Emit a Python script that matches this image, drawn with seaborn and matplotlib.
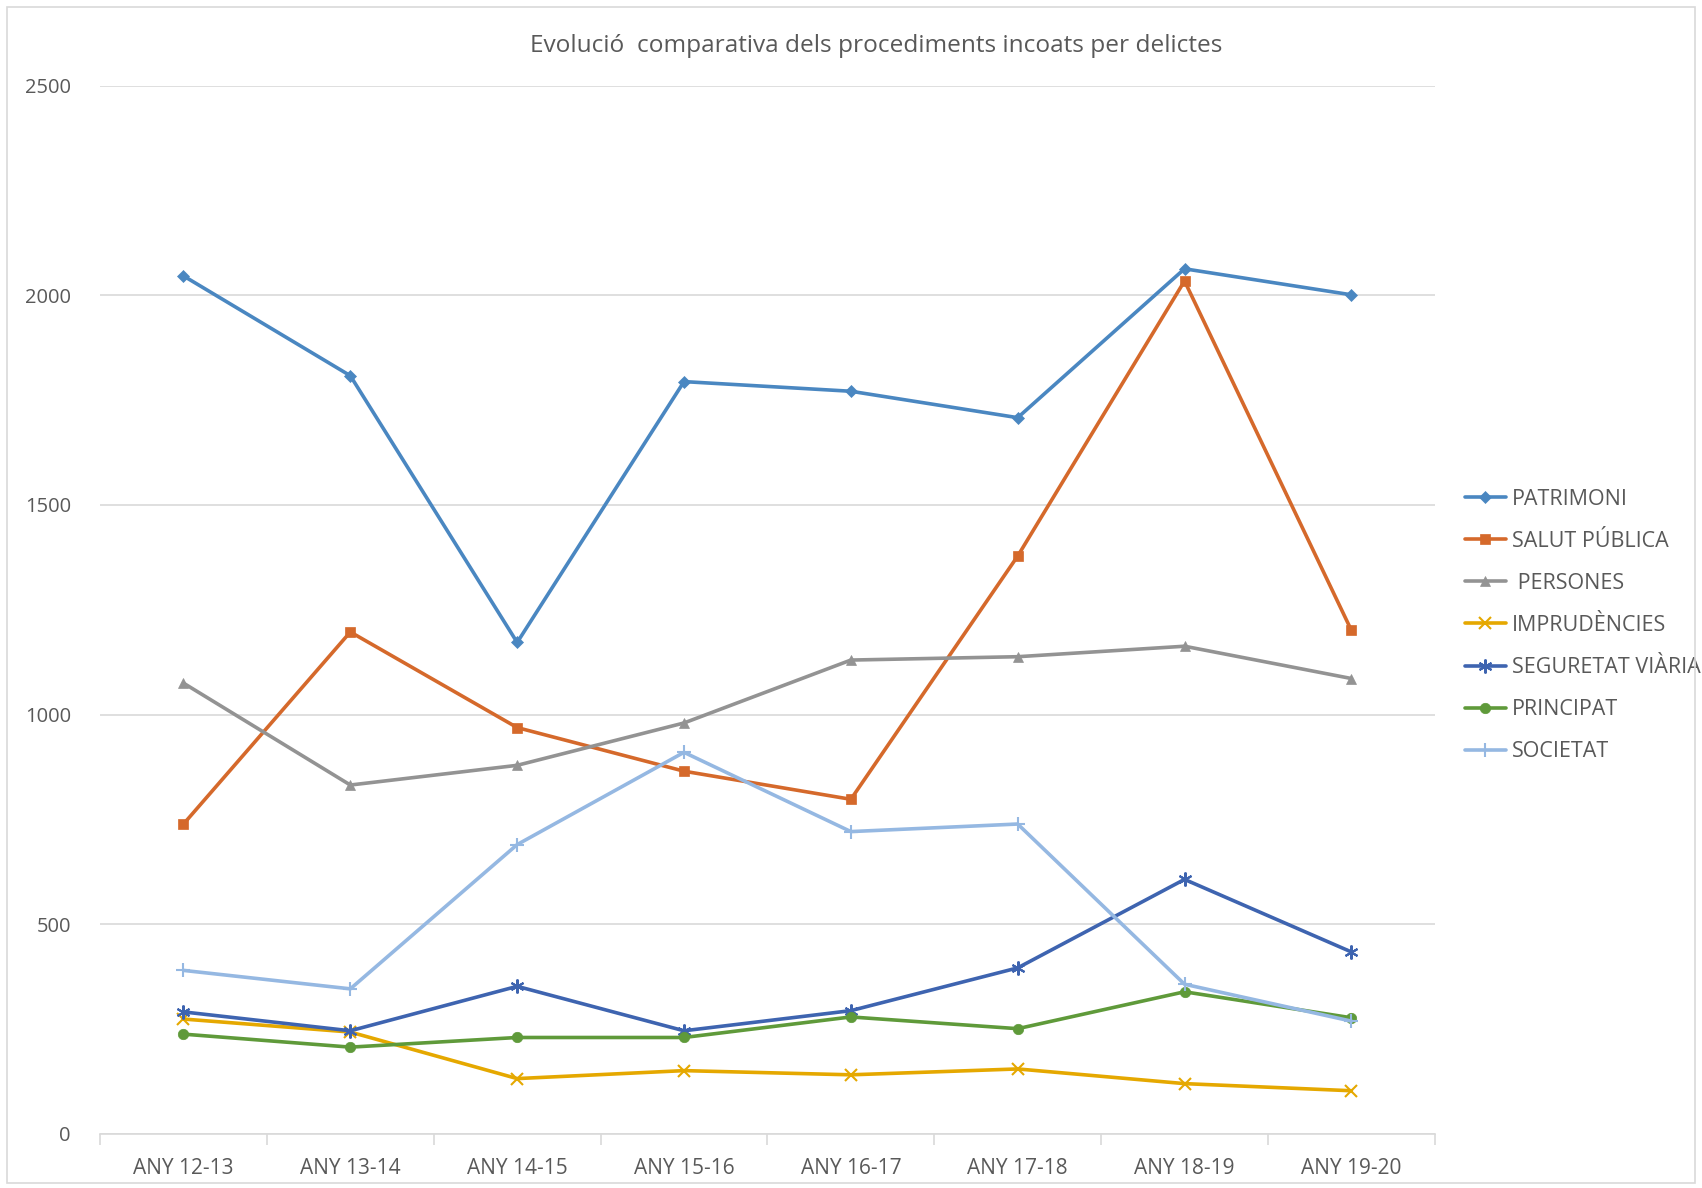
import matplotlib
matplotlib.use("Agg")
import matplotlib.pyplot as plt
import seaborn as sns
import pandas as pd
import numpy as np
from matplotlib.ticker import FixedLocator, NullFormatter, FixedFormatter

years = ["ANY 12-13", "ANY 13-14", "ANY 14-15", "ANY 15-16", "ANY 16-17", "ANY 17-18", "ANY 18-19", "ANY 19-20"]
patrimoni = [2046, 1808, 1172, 1794, 1771, 1708, 2063, 2001]
salut_publica = [739, 1197, 969, 865, 798, 1378, 2034, 1201]
persones = [1075, 832, 879, 980, 1130, 1138, 1163, 1086]
imprudencies = [274, 243, 132, 151, 141, 155, 120, 103]
seguretat_viaria = [291, 246, 352, 246, 294, 396, 607, 434]
principat = [238, 207, 230, 230, 279, 251, 339, 277]
societat = [390, 346, 690, 910, 721, 739, 357, 269]

series_names = ["PATRIMONI", "SALUT PÚBLICA", " PERSONES", "IMPRUDÈNCIES", "SEGURETAT VIÀRIA", "PRINCIPAT", "SOCIETAT"]
series_vals = [patrimoni, salut_publica, persones, imprudencies, seguretat_viaria, principat, societat]
colors = ["#4A87C1", "#D5692B", "#939393", "#E5A800", "#3E64B0", "#5F9A3A", "#95B8E2"]
markers = ["D", "s", "^", "x", (6, 2, 0), "o", "+"]
msizes = [6, 7.5, 7.5, 9, 10, 7.5, 10]

rows = []
for name, vals in zip(series_names, series_vals):
    for i, (y, v) in enumerate(zip(years, vals)):
        rows.append({"idx": i, "year": y, "value": v, "series": name})
df = pd.DataFrame(rows)

sns.set_theme(style="white")
font_list = ["Liberation Sans Narrow", "Open Sans", "DejaVu Sans"]
plt.rcParams["font.family"] = font_list

fig = plt.figure(figsize=(17.02, 11.88), dpi=100)
ax = fig.add_axes([0.0588, 0.0455, 0.7842, 0.8825])

for name, col, mk, ms in zip(series_names, colors, markers, msizes):
    sub = df[df["series"] == name]
    sns.lineplot(data=sub, x="idx", y="value", ax=ax, color=col, marker=mk,
                 markersize=ms, linewidth=2.6, label=name,
                 markeredgecolor=col, markeredgewidth=1.5 if mk in ("x", "+") or isinstance(mk, tuple) else 0.5,
                 estimator=None, sort=False)

ax.set_xlim(-0.5, len(years) - 0.5)
ax.set_ylim(0, 2500)
ax.set_yticks([0, 500, 1000, 1500, 2000, 2500])
ax.yaxis.grid(True, color="#D9D9D9", linewidth=1.2)
ax.set_axisbelow(True)
for s in ["top", "right", "left"]:
    ax.spines[s].set_visible(False)
ax.spines["bottom"].set_color("#D9D9D9")
ax.spines["bottom"].set_linewidth(1.2)

ax.xaxis.set_major_locator(FixedLocator(np.arange(-0.5, len(years), 1.0)))
ax.xaxis.set_major_formatter(NullFormatter())
ax.xaxis.set_minor_locator(FixedLocator(np.arange(len(years))))
ax.xaxis.set_minor_formatter(FixedFormatter(years))
ax.tick_params(axis="x", which="major", length=8, color="#D9D9D9", width=1.2, direction="out", bottom=True)
ax.tick_params(axis="x", which="minor", length=0, pad=17, labelsize=15, labelcolor="#595959", bottom=True)
ax.tick_params(axis="y", length=0, labelsize=14.5, labelcolor="#595959", pad=21)
ax.set_xlabel("")
ax.set_ylabel("")

fig.text(0.515, 0.961, "Evolució  comparativa dels procediments incoats per delictes",
         ha="center", va="center", fontsize=17.6, color="#595959")

leg = ax.legend(loc="center left", bbox_to_anchor=(1.008, 0.485), frameon=False,
                fontsize=15.5, labelspacing=0.98, handlelength=1.9, handletextpad=0.3,
                labelcolor="#595959")

border = plt.Rectangle((0.004, 0.004), 0.992, 0.99, transform=fig.transFigure,
                       fill=False, edgecolor="#D9D9D9", linewidth=1.2)
fig.patches.append(border)

fig.savefig("out.png", dpi=100)
